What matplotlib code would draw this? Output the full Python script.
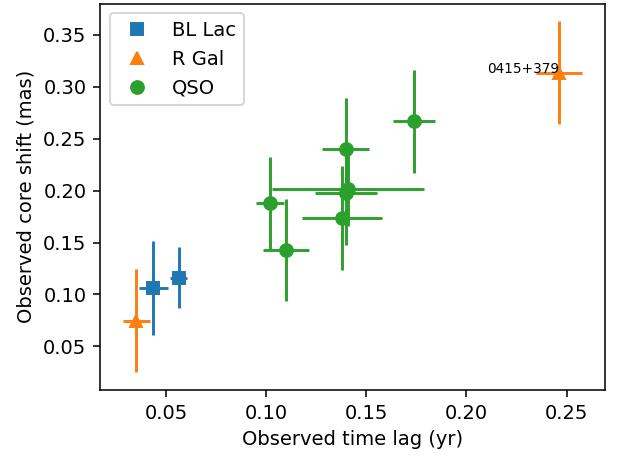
import matplotlib
matplotlib.use('Agg')
import matplotlib.pyplot as plt

# BL Lac objects
bllac_lag = [0.0436, 0.0563]
bllac_lag_err = [0.0072, 0.0041]
bllac_shift = [0.1063, 0.1162]
bllac_shift_err = [0.045, 0.0297]

# radio galaxies
rgal_lag = [0.0352, 0.2462]
rgal_lag_err = [0.0067, 0.0115]
rgal_shift = [0.0748, 0.3137]
rgal_shift_err = [0.050, 0.0497]

# quasars
qso_lag = [0.1017, 0.1100, 0.1397, 0.1410, 0.1398, 0.1380, 0.1738]
qso_lag_err = [0.0070, 0.0115, 0.0118, 0.0380, 0.0155, 0.0200, 0.0104]
qso_shift = [0.1883, 0.1430, 0.2397, 0.2018, 0.1980, 0.1738, 0.2667]
qso_shift_err = [0.0444, 0.0490, 0.0500, 0.0360, 0.0500, 0.0500, 0.0495]

label_name = '0415+379'
label_idx = 1  # which R Gal point carries the label

DPI = 140
fig = plt.figure(figsize=(620 / DPI, 456 / DPI), dpi=DPI)
ax = fig.add_axes([0.1613, 0.1447, 0.8145, 0.8476])

groups = [
    ('BL Lac', 's', 'tab:blue', bllac_lag, bllac_lag_err, bllac_shift, bllac_shift_err),
    ('R Gal', '^', 'tab:orange', rgal_lag, rgal_lag_err, rgal_shift, rgal_shift_err),
    ('QSO', 'o', 'tab:green', qso_lag, qso_lag_err, qso_shift, qso_shift_err),
]

for name, mk, color, x, xe, y, ye in groups:
    ax.errorbar(x, y, xerr=xe, yerr=ye, fmt='none', ecolor=color)
    ax.plot(x, y, ls='none', marker=mk, color=color, markersize=6.6, label=name)

ax.text(rgal_lag[label_idx], rgal_shift[label_idx], label_name,
        ha='right', fontsize=7)

ax.set_xlabel('Observed time lag (yr)')
ax.set_ylabel('Observed core shift (mas)')
ax.legend(loc='upper left')

fig.savefig('out.png', dpi=DPI)
